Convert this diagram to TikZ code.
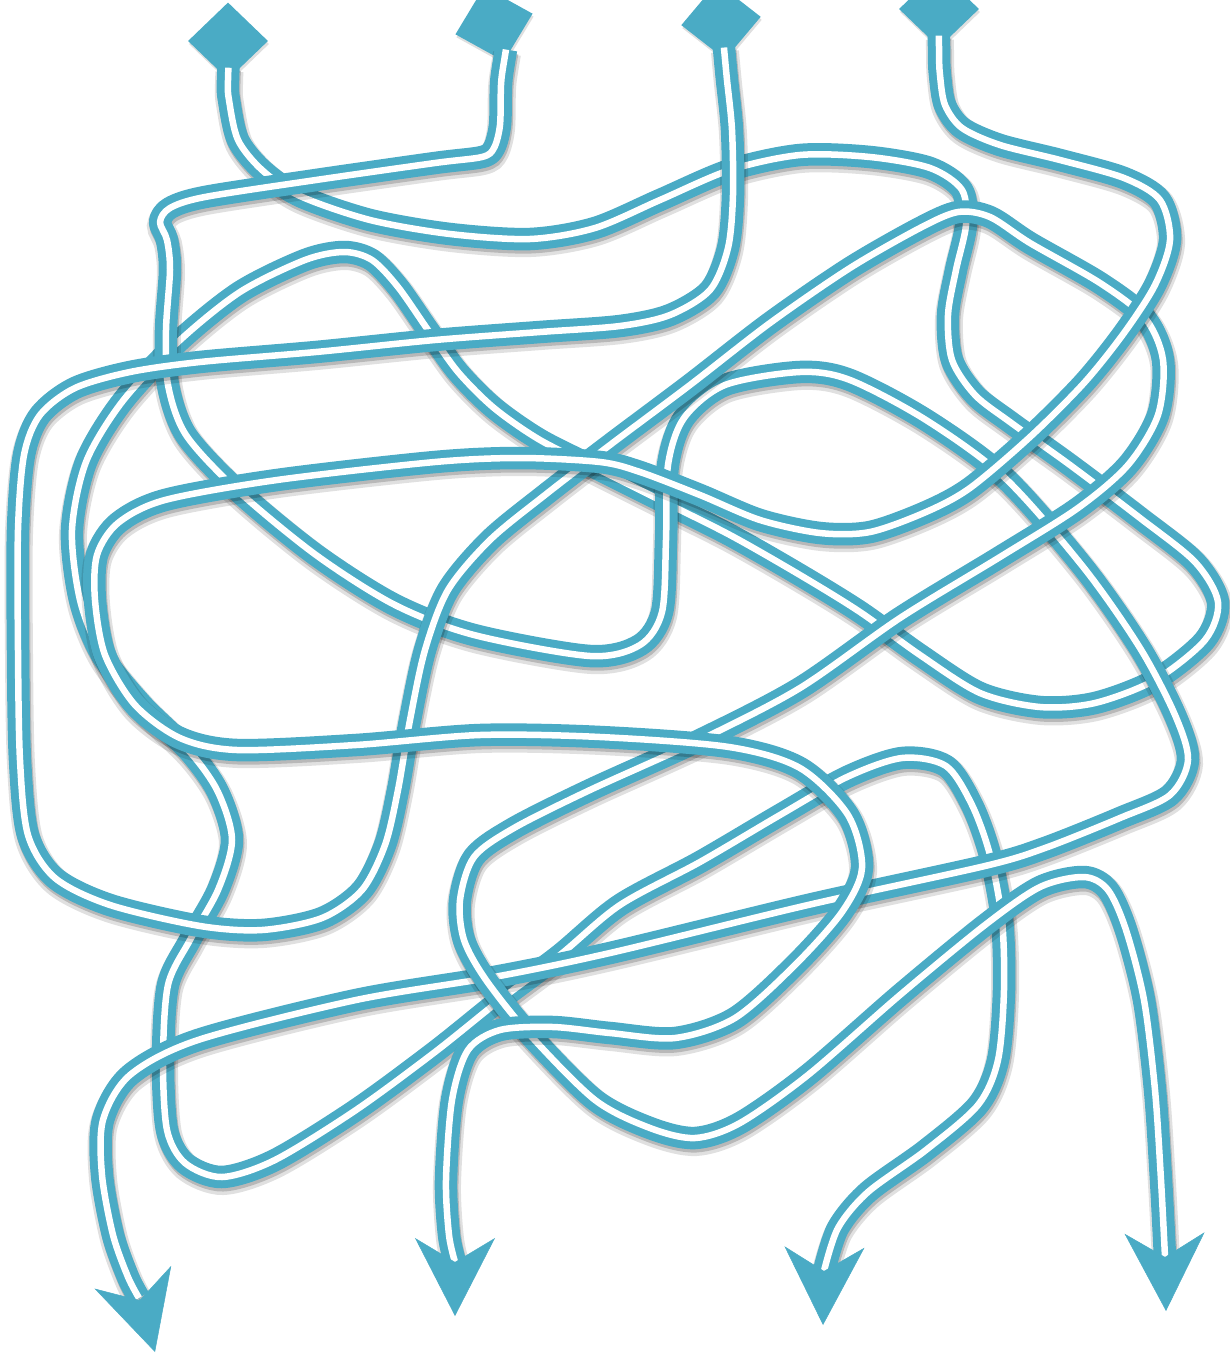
\documentclass[tikz,border=0pt]{standalone}
\usepackage{tikz}
\usetikzlibrary{arrows.meta,shapes.geometric,shadows}
\definecolor{cable}{HTML}{4AABC5}

\begin{document}
\begin{tikzpicture}[
    x=1pt, y=-1pt,
    strand/.style={draw=cable, line width=8pt, double=white, double distance=6.5pt,
      line join=round, shorten <=-12pt,
      preaction={draw=black, draw opacity=.12, line width=28pt,
        transform canvas={xshift=1pt, yshift=-4pt}},
      preaction={draw=black, draw opacity=.18, line width=23pt,
        transform canvas={xshift=1pt, yshift=-3pt}}},
    gem/.style={diamond, fill=cable, minimum width=80pt, minimum height=77pt,
      inner sep=0pt, drop shadow={opacity=.25, shadow xshift=1pt, shadow yshift=-3pt}},
    arr/.style={-{Stealth[length=78pt, width=80pt, inset=24pt]}, draw=cable,
      line width=.5pt},
  ]
  \useasboundingbox (0,0) rectangle (1230,1357);

  % inputs
  \node[gem] (d1) at (228,41) {};
  \node[gem, rotate=15] (d2) at (494,24) {};
  \node[gem, rotate=6] (d3) at (721,21) {};
  \node[gem] (d4) at (939,9) {};

  % outputs: notch and tip of each head
  \coordinate (n1) at (139,1298); \coordinate (a1) at (155,1352);
  \coordinate (n2) at (455,1262); \coordinate (a2) at (455,1316);
  \coordinate (n3) at (824,1271); \coordinate (a3) at (823,1325);
  \coordinate (n4) at (1165,1257); \coordinate (a4) at (1166,1311);

  % first input ends at the third output
  \draw[strand] plot[smooth] coordinates {(d1.south) (229,100) (238,140) (262,170)
    (300,196) (370,220) (450,234) (530,239) (595,228) (660,200) (730,170) (800,155)
    (870,157) (930,168) (962,190) (966,225) (956,270) (948,315) (952,360) (975,395)
    (1010,422) (1070,465) (1140,518) (1195,562) (1218,602) (1205,640) (1155,680)
    (1095,703) (1040,707) (980,693) (920,655) (860,612) (800,575) (730,535)
    (660,500) (600,470) (540,440) (494,408) (458,372) (428,330) (398,287) (372,260)
    (344,252) (305,260) (240,292) (178,342) (122,402) (86,462) (72,530) (80,600)
    (102,655) (142,705) (190,752) (218,792) (232,840) (218,890) (190,940)
    (168,985) (163,1060) (167,1130) (185,1163) (222,1177) (275,1160) (356,1110)
    (435,1052) (500,1000) (560,955) (620,905) (700,862) (780,815) (847,777)
    (902,758) (946,766) (972,805) (990,855) (1002,920) (1004,990) (998,1060)
    (978,1105) (926,1150) (868,1192) (838,1228) (n3)};

  % second input ends at the first output
  \draw[strand] plot[smooth] coordinates {(d2.south) (501,85) (500,125) (494,148)
    (482,157) (435,163) (316,180) (205,197) (170,208) (160,222) (167,240)
    (170,270) (166,330) (168,385) (186,435) (237,490) (316,555) (395,605)
    (474,635) (590,656) (640,645) (662,612) (666,540) (668,465) (684,418)
    (725,385) (800,372) (850,380) (926,420) (1005,478) (1084,568) (1140,648)
    (1175,715) (1188,760) (1170,795) (1120,818) (1045,848) (985,866) (808,905)
    (610,953) (494,977) (356,1000) (198,1040) (130,1075) (103,1120) (102,1175)
    (113,1235) (128,1277) (n1)};

  % third input ends at the fourth output
  \draw[strand] plot[smooth] coordinates {(d3.south) (727,80) (732,130) (733,195)
    (728,248) (710,290) (670,315) (620,326) (540,332) (435,340) (316,352)
    (200,362) (130,372) (75,388) (40,415) (24,455) (18,530) (18,650) (20,760)
    (28,835) (55,878) (110,905) (200,926) (262,930) (322,918) (362,890)
    (385,845) (398,790) (410,720) (425,650) (448,590) (490,540) (545,495)
    (610,445) (690,385) (770,323) (850,268) (920,228) (958,212) (990,217)
    (1030,243) (1100,283) (1145,318) (1163,360) (1158,415) (1128,465) (1078,508)
    (1000,557) (900,618) (800,688) (700,740) (590,790) (514,828) (474,857)
    (460,900) (464,940) (486,980) (530,1035) (595,1100) (650,1128) (695,1138)
    (740,1123) (808,1075) (900,995) (985,925) (1040,887) (1084,877) (1108,890)
    (1126,930) (1144,1000) (1155,1090) (1161,1180) (n4)};

  % fourth input ends at the second output
  \draw[strand] plot[smooth] coordinates {(d4.south) (940,75) (945,105) (962,128)
    (1000,145) (1060,160) (1124,178) (1160,200) (1170,240) (1155,285) (1124,333)
    (1084,383) (1030,437) (970,488) (926,512) (870,532) (820,533) (760,520)
    (700,495) (640,472) (600,462) (520,458) (435,462) (277,480) (165,500)
    (118,523) (97,555) (95,600) (105,655) (135,705) (180,738) (237,750)
    (356,745) (480,735) (600,737) (729,747) (800,768) (848,815) (862,868)
    (842,912) (795,965) (735,1018) (675,1038) (610,1033) (553,1027) (500,1030)
    (468,1050) (452,1100) (446,1180) (449,1235) (n2)};

  % heads
  \draw[arr] (n1) -- (a1);
  \draw[arr] (n2) -- (a2);
  \draw[arr] (n3) -- (a3);
  \draw[arr] (n4) -- (a4);
\end{tikzpicture}
\end{document}
